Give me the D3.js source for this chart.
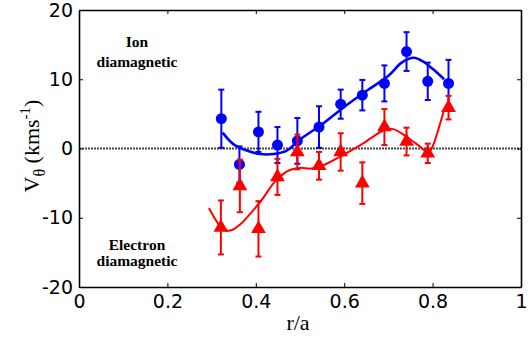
<!DOCTYPE html>
<html>
<head>
<meta charset="utf-8">
<script src="https://cdn.jsdelivr.net/npm/d3@7"></script>
<style>
  body { margin: 0; background: #fff; }
  svg { display: block; }
</style>
</head>
<body>
<div id="chart"></div>
<script>
// ion (blue) measurements
const ionR   = [0.322, 0.363, 0.406, 0.449, 0.494, 0.543, 0.592, 0.641, 0.691, 0.741, 0.789, 0.836];
const ionV   = [4.3, -2.3, 2.4, 0.5, 1.1, 3.1, 6.4, 7.7, 9.4, 14.0, 9.7, 9.4];
const ionErr = [4.2, 2.6, 2.9, 2.6, 3.3, 3.0, 2.1, 2.2, 2.6, 2.8, 2.7, 3.4];

// electron-side (red) measurements
const eleR   = [0.321, 0.364, 0.406, 0.449, 0.494, 0.543, 0.592, 0.641, 0.691, 0.741, 0.789, 0.836];
const eleV   = [-11.4, -5.4, -11.6, -4.1, -0.5, -2.5, -0.5, -5.0, 3.1, 1.0, -0.7, 5.9];
const eleErr = [3.9, 3.8, 4.0, 2.6, 2.5, 2.0, 2.7, 3.0, 2.6, 2.0, 1.4, 1.7];

// fitted curves
const ionFitR = [0.325, 0.35, 0.38, 0.41, 0.44, 0.47, 0.50, 0.55, 0.60, 0.65, 0.70, 0.73, 0.757, 0.78, 0.80, 0.826];
const ionFitV = [2.3, 0.6, -0.3, -0.8, -0.8, -0.3, 1.3, 3.5, 6.0, 8.3, 10.5, 12.4, 13.1, 12.5, 11.5, 10.0];
const eleFitR = [0.294, 0.327, 0.345, 0.364, 0.41, 0.447, 0.477, 0.50, 0.525, 0.55, 0.59, 0.643, 0.692, 0.711, 0.741, 0.771, 0.79, 0.80, 0.817, 0.826];
const eleFitV = [-8.6, -11.7, -11.8, -11.0, -7.7, -4.5, -3.1, -2.8, -2.9, -2.5, -1.2, 0.75, 2.7, 2.8, 1.7, 0.3, -0.6, 0.3, 3.6, 5.6];

const xTicks = [0, 0.2, 0.4, 0.6, 0.8, 1];
const yTicks = [-20, -10, 0, 10, 20];

const W = 528, H = 338;
const margin = {left: 79, right: 7, top: 10, bottom: 51};

const x = d3.scaleLinear().domain([0, 1]).range([margin.left, W - margin.right]);
const y = d3.scaleLinear().domain([-20, 20]).range([H - margin.bottom, margin.top]);

const svg = d3.select('#chart').append('svg')
  .attr('width', W).attr('height', H);

// zero line
svg.append('line')
  .attr('x1', x(0)).attr('x2', x(1))
  .attr('y1', y(0)).attr('y2', y(0))
  .attr('stroke', '#444').attr('stroke-width', 1.8)
  .attr('stroke-dasharray', '2,1');

// axes with inward ticks
const tickFont = '"DejaVu Sans", sans-serif';
const plain = d => String(d);
svg.append('g').attr('transform', `translate(0,${y(-20)})`)
  .call(d3.axisBottom(x).tickValues(xTicks).tickSizeInner(-4).tickSizeOuter(0).tickPadding(8)
    .tickFormat(plain));
svg.append('g').attr('transform', `translate(${x(0)},0)`)
  .call(d3.axisLeft(y).tickValues(yTicks).tickSizeInner(-4).tickSizeOuter(0).tickPadding(6)
    .tickFormat(plain));
svg.append('g').attr('transform', `translate(0,${y(20)})`)
  .call(d3.axisTop(x).tickValues(xTicks).tickSizeInner(-4).tickSizeOuter(0).tickFormat(''));
svg.append('g').attr('transform', `translate(${x(1)},0)`)
  .call(d3.axisRight(y).tickValues(yTicks).tickSizeInner(-4).tickSizeOuter(0).tickFormat(''));

svg.selectAll('.domain').attr('stroke', '#000').attr('stroke-width', 1.6);
svg.selectAll('.tick line').attr('stroke', '#000').attr('stroke-width', 1);
svg.selectAll('.tick text')
  .attr('font-family', tickFont).attr('font-size', 19).attr('fill', '#000');

// axis titles
const serif = '"Liberation Serif", "Times New Roman", serif';
svg.append('text')
  .attr('x', 298).attr('y', 330)
  .attr('text-anchor', 'middle')
  .attr('font-family', serif)
  .attr('font-size', 22)
  .text('r/a');

const yTitle = svg.append('text')
  .attr('transform', `translate(39,146) rotate(-90)`)
  .attr('text-anchor', 'middle')
  .attr('font-family', serif)
  .attr('font-size', 22);
yTitle.append('tspan').text('V');
yTitle.append('tspan').attr('dy', 6).attr('font-size', 16).text('θ');
yTitle.append('tspan').attr('dy', -6).text(' (kms');
yTitle.append('tspan').attr('dy', -9).attr('font-size', 15).text('-1');
yTitle.append('tspan').attr('dy', 9).text(')');

// annotations
[['Ion', 47], ['diamagnetic', 67], ['Electron', 250], ['diamagnetic', 266]].forEach(([t, yy]) => {
  svg.append('text')
    .attr('x', 137).attr('y', yy)
    .attr('text-anchor', 'middle')
    .attr('font-family', serif).attr('font-weight', 'bold').attr('font-size', 15.5)
    .text(t);
});

const line = d3.line().x(d => x(d[0])).y(d => y(d[1])).curve(d3.curveCatmullRom.alpha(0.5));

function drawSeries(rs, vs, errs, fitR, fitV, color, shape, lw) {
  const g = svg.append('g');
  g.append('path')
    .datum(fitR.map((r, i) => [r, fitV[i]]))
    .attr('d', line)
    .attr('fill', 'none').attr('stroke', color).attr('stroke-width', lw);

  const pts = rs.map((r, i) => ({r: r, v: vs[i], e: errs[i]}));
  const bars = g.selectAll('g.bar').data(pts).enter().append('g').attr('class', 'bar');
  bars.append('line')
    .attr('x1', d => x(d.r)).attr('x2', d => x(d.r))
    .attr('y1', d => y(d.v + d.e)).attr('y2', d => y(d.v - d.e))
    .attr('stroke', color).attr('stroke-width', 2);
  [1, -1].forEach(s => {
    bars.append('line')
      .attr('x1', d => x(d.r) - 3).attr('x2', d => x(d.r) + 3)
      .attr('y1', d => y(d.v + s * d.e)).attr('y2', d => y(d.v + s * d.e))
      .attr('stroke', color).attr('stroke-width', 2);
  });

  if (shape === 'circle') {
    g.selectAll('circle').data(pts).enter().append('circle')
      .attr('cx', d => x(d.r)).attr('cy', d => y(d.v)).attr('r', 5.5)
      .attr('fill', color);
  } else {
    g.selectAll('path.tri').data(pts).enter().append('path')
      .attr('class', 'tri')
      .attr('d', d3.symbol().type(d3.symbolTriangle).size(95))
      .attr('transform', d => `translate(${x(d.r)},${y(d.v)})`)
      .attr('fill', color);
  }
}

drawSeries(ionR, ionV, ionErr, ionFitR, ionFitV, '#0000ff', 'circle', 2.6);
drawSeries(eleR, eleV, eleErr, eleFitR, eleFitV, '#ff0000', 'triangle', 2);
</script>
</body>
</html>
